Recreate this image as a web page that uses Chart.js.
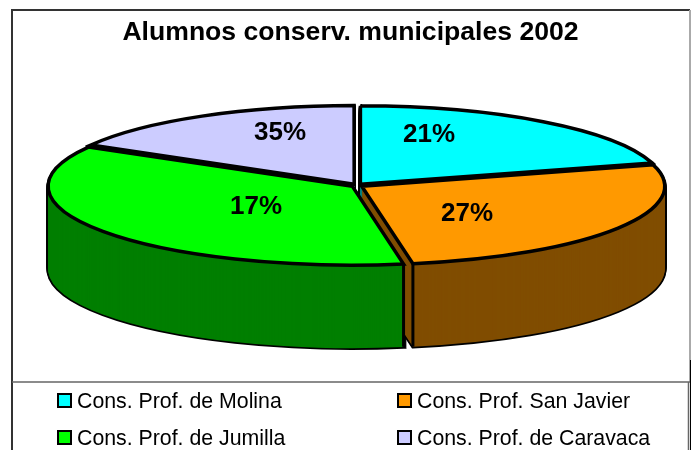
<!DOCTYPE html>
<html>
<head>
<meta charset="utf-8">
<style>
    html, body { margin: 0; padding: 0; background: #fff; overflow: hidden; }
    canvas { display: block; }
</style>
<script src="https://cdn.jsdelivr.net/npm/chart.js@4"></script>
</head>
<body>
<canvas id="pie-chart" width="697" height="450"></canvas>
<script>
const chartTitle = 'Alumnos conserv. municipales 2002';
const categories = ['Cons. Prof. de Molina', 'Cons. Prof. San Javier', 'Cons. Prof. de Jumilla', 'Cons. Prof. de Caravaca'];
// slice sizes as drawn; the printed labels of the last two are crossed in the original
const sliceValues = [20.6, 26.7, 36, 16.7];
const sliceLabels = ['21%', '27%', '17%', '35%'];
const topColors = ['#00FFFF', '#FF9900', '#00FF00', '#CCCCFF'];
const wallColors = ['#008080', '#804D00', '#007F00', '#666680'];

const labelSpots = [[429, 135], [467, 214], [256, 207], [280, 133]];
const legendSpots = [[58, 401], [398, 401], [58, 438], [398, 438]];

const tilt = { cx: 357, cy: 185.5, rx: 303, ry: 78.5, depth: 83 };
const sansFont = '"Liberation Sans", Arial, sans-serif';

function withTilt(ctx, el, dy, draw) {
    const scale = tilt.rx / el.outerRadius;
    const scaleY = tilt.ry / el.outerRadius;
    ctx.save();
    ctx.translate(tilt.cx, tilt.cy + dy);
    ctx.scale(scale, scaleY);
    ctx.translate(-el.x, -el.y);
    draw();
    ctx.restore();
}

function drawWalls(chart) {
    const ctx = chart.ctx;
    const arcs = chart.getDatasetMeta(0).data;

    arcs.forEach((el) => {
        const base = el.options;
        el.options = Object.create(base, { backgroundColor: { value: 'rgba(0,0,0,0)' } });
        for (let dy = tilt.depth; dy > 0; dy -= 1) {
            withTilt(ctx, el, dy, () => el.draw(ctx));
        }
        el.options = base;
    });

    for (let dy = tilt.depth; dy > 0; dy -= 1) {
        arcs.forEach((el, i) => {
            const base = el.options;
            el.options = Object.create(base, {
                backgroundColor: { value: wallColors[i] },
                borderWidth: { value: 0 }
            });
            withTilt(ctx, el, dy, () => el.draw(ctx));
            el.options = base;
        });
    }

    // vertical corners on the front half
    arcs.forEach((el) => {
        [el.startAngle, el.endAngle].forEach((angle) => {
            if (Math.sin(angle) <= 0) {
                return;
            }
            const mid = (el.startAngle + el.endAngle) / 2;
            const push = el.options.offset / 4;
            const px = Math.cos(mid) * push + Math.cos(angle) * el.outerRadius;
            const py = Math.sin(mid) * push + Math.sin(angle) * el.outerRadius;
            const x = tilt.cx + px * tilt.rx / el.outerRadius;
            const y = tilt.cy + py * tilt.ry / el.outerRadius;
            ctx.save();
            ctx.setTransform(1, 0, 0, 1, 0, 0);
            ctx.strokeStyle = '#000';
            ctx.lineWidth = 3;
            ctx.beginPath();
            ctx.moveTo(x, y);
            ctx.lineTo(x, y + tilt.depth);
            ctx.stroke();
            ctx.restore();
        });
    });
}

function drawFrame(ctx) {
    ctx.save();
    ctx.lineWidth = 2;
    ctx.strokeStyle = '#333';
    ctx.beginPath();
    ctx.moveTo(12, 450);
    ctx.lineTo(12, 10);
    ctx.lineTo(690, 10);
    ctx.stroke();
    ctx.strokeStyle = '#aaa';
    ctx.beginPath();
    ctx.moveTo(690, 10);
    ctx.lineTo(690, 382);
    ctx.stroke();
    ctx.lineWidth = 1;
    ctx.strokeStyle = '#000';
    ctx.beginPath();
    ctx.moveTo(690.5, 360);
    ctx.lineTo(690.5, 450);
    ctx.stroke();
    ctx.strokeStyle = '#666';
    ctx.lineWidth = 1.5;
    ctx.beginPath();
    ctx.moveTo(12, 382);
    ctx.lineTo(690, 382);
    ctx.moveTo(688.5, 382);
    ctx.lineTo(688.5, 450);
    ctx.stroke();
    ctx.restore();
}

function drawLegend(ctx) {
    ctx.save();
    ctx.font = `21.3px ${sansFont}`;
    ctx.textBaseline = 'middle';
    categories.forEach((name, i) => {
        const [x, y] = legendSpots[i];
        ctx.fillStyle = topColors[i];
        ctx.fillRect(x, y - 7, 13, 13);
        ctx.strokeStyle = '#000';
        ctx.lineWidth = 2;
        ctx.strokeRect(x, y - 7, 13, 13);
        ctx.fillStyle = '#000';
        ctx.fillText(name, x + 19, y + 1);
    });
    ctx.restore();
}

const tiltPlugin = {
    id: 'tilt',
    beforeDraw(chart) {
        drawFrame(chart.ctx);
        drawLegend(chart.ctx);
    },
    beforeDatasetsDraw(chart) {
        const ctx = chart.ctx;
        const rawStroke = ctx.stroke;
        // keep line width even under the squashed transform
        ctx.stroke = function () {
            ctx.save();
            ctx.setTransform(1, 0, 0, 1, 0, 0);
            rawStroke.call(ctx);
            ctx.restore();
        };
        drawWalls(chart);
        const el = chart.getDatasetMeta(0).data[0];
        ctx.save();
        ctx.translate(tilt.cx, tilt.cy);
        ctx.scale(tilt.rx / el.outerRadius, tilt.ry / el.outerRadius);
        ctx.translate(-el.x, -el.y);
    },
    afterDatasetsDraw(chart) {
        const ctx = chart.ctx;
        ctx.restore();
        delete ctx.stroke;
        ctx.save();
        ctx.font = `bold 26px ${sansFont}`;
        ctx.fillStyle = '#000';
        ctx.textAlign = 'center';
        ctx.textBaseline = 'middle';
        sliceLabels.forEach((text, i) => {
            ctx.fillText(text, labelSpots[i][0], labelSpots[i][1]);
        });
        ctx.restore();
    }
};

new Chart(document.getElementById('pie-chart'), {
    type: 'pie',
    data: {
        labels: categories,
        datasets: [{
            data: sliceValues,
            backgroundColor: topColors,
            borderColor: '#000',
            borderWidth: 3.5,
            borderJoinStyle: 'miter',
            offset: 11,
            hoverOffset: 0,
            clip: false
        }]
    },
    options: {
        responsive: false,
        animation: false,
        events: [],
        layout: { padding: { top: 0, bottom: 80, left: 4 } },
        plugins: {
            legend: { display: false },
            tooltip: { enabled: false },
            title: {
                display: true,
                text: chartTitle,
                color: '#000',
                font: { family: sansFont, size: 26.6, weight: 'bold' },
                padding: { top: 17, bottom: 10 }
            }
        }
    },
    plugins: [tiltPlugin]
});
</script>
</body>
</html>
